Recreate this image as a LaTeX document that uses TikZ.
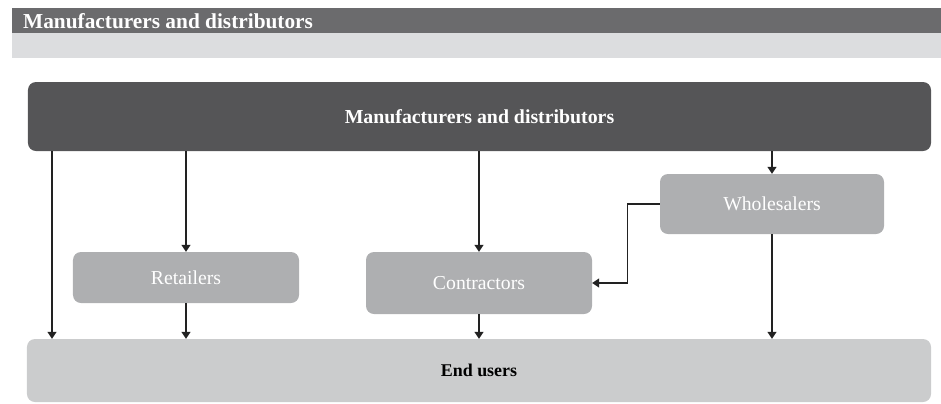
\documentclass[tikz,border=0pt]{standalone}
\usepackage{fontspec}
\setmainfont{Liberation Serif}
\usetikzlibrary{arrows.meta}

\definecolor{headdark}{HTML}{6B6B6D}
\definecolor{headlight}{HTML}{DCDDDF}
\definecolor{maindark}{HTML}{555557}
\definecolor{midgray}{HTML}{AEAFB1}
\definecolor{lightgray}{HTML}{CBCCCD}
\definecolor{linegray}{HTML}{222222}

\tikzset{
	box/.style={fill=midgray, rounded corners=8bp, text=white, font=\fontsize{19.8}{23}\selectfont},
	arr/.style={draw=linegray, line width=1.2bp, -{Triangle[length=7bp,width=9bp]}}
}

\begin{document}
\begin{tikzpicture}[x=1bp,y=-1bp]
		\useasboundingbox (0,0) rectangle (941,403);
		\fill[color=headdark] (12,8) rectangle (941,33);
		\fill[color=headlight] (12,33) rectangle (941,57.5);
		\node[anchor=west, text=white, font=\bfseries\fontsize{21.4}{24}\selectfont, inner sep=0pt] (headtitle) at (23,21) {Manufacturers and distributors};
		
		\node[fill=maindark, rounded corners=8bp, minimum width=903bp, minimum height=69bp, text=white, font=\bfseries\fontsize{19.9}{23}\selectfont] (makers) at (479.5,116.5) {Manufacturers and distributors};
		\node[box, minimum width=226bp, minimum height=51bp] (retail) at (186,277.5) {Retailers};
		\node[box, minimum width=226bp, minimum height=62bp] (contr) at (479,283) {Contractors};
		\node[box, minimum width=224bp, minimum height=60bp] (whole) at (772,204) {Wholesalers};
		\node[fill=lightgray, rounded corners=8bp, minimum width=904bp, minimum height=63bp, font=\bfseries\fontsize{18}{21}\selectfont] (users) at (479,370.5) {End users};
		
		\coordinate (direct) at (52,0);
		\draw[arr] (makers.south -| direct) -- (users.north -| direct);
		\foreach \x in {retail,contr,whole} {
			\draw[arr] (makers.south -| \x.north) -- (\x.north);
			\draw[arr] (\x.south) -- (users.north -| \x.south);
		}
		\draw[arr] (whole.west) -- ++(-32,0) |- (contr.east);
	\end{tikzpicture}
\end{document}
